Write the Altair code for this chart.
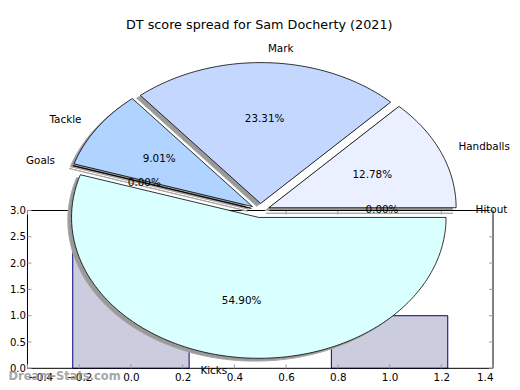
import numpy as np
import pandas as pd
import altair as alt

# ---------------- data ----------------
categories = ["Hitout", "Handballs", "Mark", "Tackle", "Goals", "Kicks"]
percentages = [0.00, 12.78, 23.31, 9.01, 0.00, 54.90]

bar_positions = [0, 1]
bar_heights = [3, 1]

x_ticks = [-0.4, -0.2, 0.0, 0.2, 0.4, 0.6, 0.8, 1.0, 1.2, 1.4]
y_ticks = [0.0, 0.5, 1.0, 1.5, 2.0, 2.5, 3.0]

TITLE = "DT score spread for Sam Docherty (2021)"
WATERMARK = "Dream-Stats.com"

# ---------------- styles / geometry ----------------
wedge_colors = ["#f0f8ff", "#eaf0ff", "#c4d8ff", "#b0d4ff", "#d4e8ff", "#d9ffff"]
W, H = 466, 158
X_DOMAIN = [-0.4, 1.4]
Y_DOMAIN = [0, 3]
CX, CY = 0.5, 3.0            # pie centre in the bar axes' data units
RX, RY = 0.724, 2.677        # pie radii (the pie is stretched by the axes)
EXPLODE = 0.05
SHADOW = 0.02
LABEL_D = 1.1
PCT_D = 0.6
BAR_W = 0.45
FONT = "DejaVu Sans"
FS = 10.4

xs_scale = alt.Scale(domain=X_DOMAIN, nice=False, zero=False)
ys_scale = alt.Scale(domain=Y_DOMAIN, nice=False, zero=False)
x_axis = alt.Axis(values=x_ticks, format=".1f", ticks=False, domain=False, grid=False,
                  labelPadding=4, labelFont=FONT, labelFontSize=FS, labelColor="black",
                  title=None)
y_axis = alt.Axis(values=y_ticks, format=".1f", ticks=False, domain=False, grid=False,
                  labelPadding=2, labelFont=FONT, labelFontSize=10.1, labelColor="black",
                  title=None)


def X(field):
    return alt.X(field, scale=xs_scale, axis=x_axis, title=None)


def Y(field):
    return alt.Y(field, scale=ys_scale, axis=y_axis, title=None)


# ---------------- pie geometry from the percentages ----------------
poly_rows, shadow_rows, label_rows, pct_rows = [], [], [], []
start = 0.0
for name, p in zip(categories, percentages):
    t1, t2 = start, start + 360.0 * p / 100.0
    start = t2
    mid = np.deg2rad((t1 + t2) / 2)
    ox = CX + EXPLODE * RX * np.cos(mid)
    oy = CY + EXPLODE * RY * np.sin(mid)
    n = max(2, int(abs(t2 - t1))) + 1
    ts = np.deg2rad(np.linspace(t1, t2, n))
    px = [ox] + list(ox + RX * np.cos(ts)) + [ox]
    py = [oy] + list(oy + RY * np.sin(ts)) + [oy]
    for i, (a, b) in enumerate(zip(px, py)):
        poly_rows.append(dict(wedge=name, i=i, px=a, py=b))
        shadow_rows.append(dict(wedge=name, i=i, px=a - SHADOW * RX, py=b - SHADOW * RY))
    label_rows.append(dict(label=name,
                           lx=ox + LABEL_D * RX * np.cos(mid),
                           ly=oy + LABEL_D * RY * np.sin(mid),
                           side="left" if np.cos(mid) > 0 else "right"))
    pct_rows.append(dict(pct=f"{p:.2f}%",
                         tx=ox + PCT_D * RX * np.cos(mid),
                         ty=oy + PCT_D * RY * np.sin(mid)))

poly_df = pd.DataFrame(poly_rows)
shadow_df = pd.DataFrame(shadow_rows)
label_df = pd.DataFrame(label_rows)
pct_df = pd.DataFrame(pct_rows)

bars_df = pd.DataFrame({"pos": bar_positions, "h": bar_heights})
bars_df["left"] = bars_df["pos"] - BAR_W / 2
bars_df["right"] = bars_df["pos"] + BAR_W / 2
bars_df["base"] = 0

xt_df = pd.DataFrame({"xt": x_ticks})
yt_df = pd.DataFrame({"yt": y_ticks})
one = pd.DataFrame({"title": [TITLE], "wm": [WATERMARK]})

# ---------------- layers ----------------
bars = alt.Chart(bars_df).mark_rect(fill="#ccccdf", stroke="#000080", strokeWidth=1).encode(
    x=X("left:Q"), x2="right:Q", y=Y("base:Q"), y2="h:Q",
)

frame = alt.Chart(one).mark_rect(fill=None, stroke="black", strokeWidth=1).encode(
    x=alt.value(0), x2=alt.value(W), y=alt.value(0), y2=alt.value(H)
)

tick_color = "#9a9a9a"
xticks_b = alt.Chart(xt_df).mark_rule(color=tick_color).encode(
    x=X("xt:Q"), y=alt.value(H - 4), y2=alt.value(H))
xticks_t = alt.Chart(xt_df).mark_rule(color=tick_color).encode(
    x=X("xt:Q"), y=alt.value(0), y2=alt.value(4))
yticks_l = alt.Chart(yt_df).mark_rule(color=tick_color).encode(
    y=Y("yt:Q"), x=alt.value(0), x2=alt.value(4))
yticks_r = alt.Chart(yt_df).mark_rule(color=tick_color).encode(
    y=Y("yt:Q"), x=alt.value(W - 4), x2=alt.value(W))

shadows = alt.Chart(shadow_df).mark_line(fill="#9a9a9a", stroke="#a8a8a8", strokeWidth=1).encode(
    x=X("px:Q"), y=Y("py:Q"), detail="wedge:N", order="i:Q",
)

wedges = alt.Chart(poly_df).mark_line(stroke="black", strokeWidth=0.8, strokeJoin="miter").encode(
    x=X("px:Q"), y=Y("py:Q"),
    fill=alt.Fill("wedge:N", scale=alt.Scale(domain=categories, range=wedge_colors), legend=None),
    detail="wedge:N", order="i:Q",
)

lab_left = alt.Chart(label_df).transform_filter(alt.datum.side == "left").mark_text(
    align="left", baseline="middle", font=FONT, fontSize=FS, color="black").encode(
    x=X("lx:Q"), y=Y("ly:Q"), text="label:N")
lab_right = alt.Chart(label_df).transform_filter(alt.datum.side == "right").mark_text(
    align="right", baseline="middle", font=FONT, fontSize=FS, color="black").encode(
    x=X("lx:Q"), y=Y("ly:Q"), text="label:N")
pct_text = alt.Chart(pct_df).mark_text(
    align="center", baseline="middle", font=FONT, fontSize=FS, color="black").encode(
    x=X("tx:Q"), y=Y("ty:Q"), text="pct:N")

title = alt.Chart(one).mark_text(align="center", baseline="middle", font=FONT, fontSize=12.8,
                                 color="black").encode(
    x=alt.value(232), y=alt.value(-186), text="title:N")
watermark = alt.Chart(one).mark_text(align="left", baseline="middle", font=FONT, fontSize=11.5,
                                     fontWeight="bold", color="#8a8a8a", opacity=0.75).encode(
    x=alt.value(-19), y=alt.value(166.5), text="wm:N")

chart = alt.layer(
    bars, frame, xticks_b, xticks_t, yticks_l, yticks_r,
    shadows, wedges, lab_left, lab_right, pct_text, title, watermark
).properties(
    width=W, height=H,
    autosize=alt.AutoSizeParams(type="none"),
    padding={"left": 19.5, "top": 202.5, "right": 19, "bottom": 13},
    background="white",
).configure_view(stroke=None)

chart.save("out.html", embed_options={"renderer": "svg", "actions": False})
